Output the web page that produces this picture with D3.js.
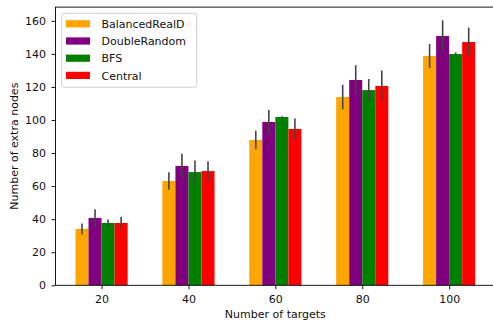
<!DOCTYPE html>
<html>
<head>
<meta charset="utf-8">
<script src="https://cdn.jsdelivr.net/npm/d3@7"></script>
<style>
  body { margin: 0; background: #fff; }
  svg { display: block; font-family: "DejaVu Sans", sans-serif; }
</style>
</head>
<body>
<svg id="chart" width="493" height="325"></svg>
<script>
// values
var targets = [20, 40, 60, 80, 100];
var seriesNames = ["BalancedRealD", "DoubleRandom", "BFS", "Central"];
var seriesColors = ["orange", "purple", "green", "red"];

var balancedMean = [34.1, 63.1, 87.9, 113.9, 138.7];
var balancedErr  = [3.3, 5.3, 5.6, 7.4, 7.3];
var doubleMean   = [40.7, 72.2, 98.8, 124.2, 150.8];
var doubleErr    = [5.3, 7.4, 7.2, 8.9, 9.5];
var bfsMean      = [37.7, 68.5, 101.8, 118.1, 139.9];
var bfsErr       = [2.1, 7.0, 0.5, 6.7, 1.0];
var centralMean  = [37.7, 69.1, 94.6, 120.6, 147.2];
var centralErr   = [3.7, 6.0, 6.3, 9.3, 8.7];

var yTicks = [0, 20, 40, 60, 80, 100, 120, 140, 160];

var means = [balancedMean, doubleMean, bfsMean, centralMean];
var errs = [balancedErr, doubleErr, bfsErr, centralErr];
var barWidth = 3; // in data units of the x axis
var fontSize = 11;

var ax = {left: 55.5, right: 495.2, top: 7.1, bottom: 285.3};
var svg = d3.select("#chart");

var x = d3.scaleLinear().domain([9.4, 110.6]).range([ax.left, ax.right]);
var y = d3.scaleLinear().domain([0, 168.3]).range([ax.bottom, ax.top]);

// bars
var bars = [];
means.forEach(function(m, s) {
    targets.forEach(function(t, i) {
        bars.push({s: s, x: t + (s - 1.5) * barWidth, v: m[i], e: errs[s][i]});
    });
});

svg.append("g").selectAll("rect")
    .data(bars)
  .enter().append("rect")
    .attr("x", (d) => x(d.x - barWidth / 2))
    .attr("width", (d) => x(d.x + barWidth / 2) - x(d.x - barWidth / 2))
    .attr("y", (d) => y(d.v))
    .attr("height", (d) => y(0) - y(d.v))
    .attr("fill", (d) => seriesColors[d.s]);

// error bars
svg.append("g").selectAll("line")
    .data(bars)
  .enter().append("line")
    .attr("x1", (d) => x(d.x))
    .attr("x2", (d) => x(d.x))
    .attr("y1", (d) => y(d.v - d.e))
    .attr("y2", (d) => y(d.v + d.e))
    .attr("stroke", "#444")
    .attr("stroke-width", 1.6);

// axes
var xAxis = svg.append("g")
    .attr("transform", "translate(0," + ax.bottom + ")")
    .call(d3.axisBottom(x).tickValues(targets).tickSize(4).tickPadding(5.5).tickSizeOuter(0));
var yAxis = svg.append("g")
    .attr("transform", "translate(" + ax.left + ",0)")
    .call(d3.axisLeft(y).tickValues(yTicks).tickSize(4).tickPadding(5.5).tickSizeOuter(0));

[xAxis, yAxis].forEach(function(g) {
    g.select(".domain").remove();
    g.selectAll("text").attr("font-size", fontSize).attr("font-family", "DejaVu Sans").attr("fill", "#111");
    g.selectAll("line").attr("stroke", "#000").attr("stroke-width", 0.9);
});

// frame
svg.append("rect")
    .attr("x", ax.left).attr("y", ax.top)
    .attr("width", ax.right - ax.left).attr("height", ax.bottom - ax.top)
    .attr("fill", "none").attr("stroke", "#000").attr("stroke-width", 0.9);

// axis labels
svg.append("text")
    .attr("x", (ax.left + ax.right) / 2).attr("y", 317.5)
    .attr("text-anchor", "middle").attr("font-size", fontSize).attr("fill", "#111")
    .text("Number of targets");
svg.append("text")
    .attr("transform", "translate(18.3," + ((ax.top + ax.bottom) / 2) + ") rotate(-90)")
    .attr("text-anchor", "middle").attr("font-size", fontSize).attr("fill", "#111")
    .text("Number of extra nodes");

// legend
var legend = svg.append("g");
legend.append("rect")
    .attr("x", 61.7).attr("y", 13.3).attr("width", 135).attr("height", 74)
    .attr("rx", 2.5).attr("fill", "#fff").attr("fill-opacity", 0.8)
    .attr("stroke", "#ccc").attr("stroke-width", 0.9);
var items = legend.selectAll("g.item")
    .data(seriesNames)
  .enter().append("g")
    .attr("class", "item")
    .attr("transform", (d, i) => "translate(0," + (23.8 + i * 17.2) + ")");
items.append("rect")
    .attr("x", 66).attr("y", -3.6).attr("width", 24).attr("height", 7.2)
    .attr("fill", (d, i) => seriesColors[i]);
items.append("text")
    .attr("x", 101.5).attr("y", 4.2)
    .attr("font-size", fontSize).attr("fill", "#111")
    .text((d) => d);
</script>
</body>
</html>
